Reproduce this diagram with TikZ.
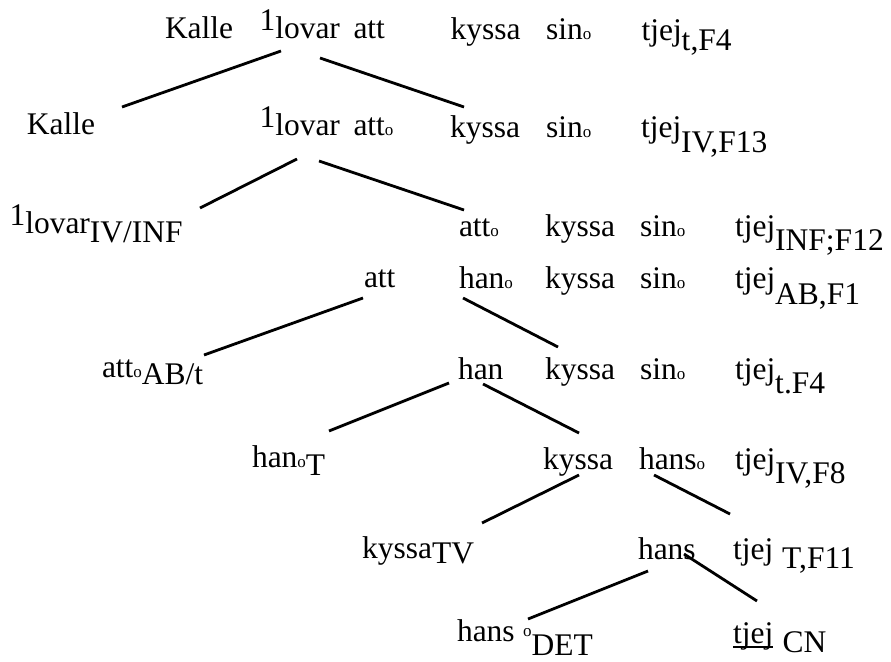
\documentclass[tikz,border=0pt]{standalone}
\usepackage{fontspec}
\setmainfont{Liberation Serif}
\newcommand\mainsz{\fontsize{31.5}{36}\selectfont}
\newcommand\lo[2]{\raisebox{-#1pt}{#2}}
\newcommand\hi[1]{\raisebox{8pt}{#1}}
\newcommand\oo{{\fontsize{17}{17}\selectfont o}}
\begin{document}
\begin{tikzpicture}[x=1pt,y=-1pt,
  w/.style={anchor=base west, inner sep=0pt, outer sep=0pt, font=\mainsz},
  br/.style={line width=2.8pt}]
\useasboundingbox (0,0) rectangle (891,661);
% row 1
\node[w] (r1a) at (165,38) {Kalle};
\node[w] (r1b) at (259.5,39) {\hi{1}lovar};
\node[w] (r1c) at (353.5,39) {att};
\node[w] (r1d) at (450.5,40) {kyssa};
\node[w] (r1e) at (546,40) {sin\oo};
\node[w] (r1f) at (641.5,41) {tjej\lo{10}{t,F4}};
% row 2
\node[w] (r2a) at (27,134) {Kalle};
\node[w] (r2b) at (259.5,135) {\hi{1}lovar};
\node[w] (r2c) at (353.5,135) {att\oo};
\node[w] (r2d) at (450,137) {kyssa};
\node[w] (r2e) at (546,137) {sin\oo};
\node[w] (r2f) at (641,137) {tjej\lo{15}{IV,F13}};
% row 3
\node[w] (r3a) at (9.5,233) {\hi{1}lovar\lo{9}{IV/INF}};
\node[w] (r3b) at (459,236) {att\oo};
\node[w] (r3c) at (545,236) {kyssa};
\node[w] (r3d) at (640,236) {sin\oo};
\node[w] (r3e) at (735,236) {tjej\lo{14}{INF;F12}};
% row 4
\node[w] (r4a) at (364,287) {att};
\node[w] (r4b) at (459,288) {han\oo};
\node[w] (r4c) at (545,288) {kyssa};
\node[w] (r4d) at (640,288) {sin\oo};
\node[w] (r4e) at (735,288) {tjej\lo{16}{AB,F1}};
% row 5
\node[w] (r5a) at (102,377) {att\oo\lo{7}{AB/t}};
\node[w] (r5b) at (458,379) {han};
\node[w] (r5c) at (545,379) {kyssa};
\node[w] (r5d) at (640,379) {sin\oo};
\node[w] (r5e) at (735,379) {tjej\lo{14}{t.F4}};
% row 6
\node[w] (r6a) at (252,467) {han\oo\lo{8}{T}};
\node[w] (r6b) at (543,469) {kyssa};
\node[w] (r6c) at (639,469) {hans\oo};
\node[w] (r6d) at (735,469) {tjej\lo{14}{IV,F8}};
% row 7
\node[w] (r7a) at (362,558) {kyssa\lo{5}{TV}};
\node[w] (r7b) at (638,559) {hans};
\node[w] (r7c) at (733,559) {tjej\hspace{9pt}\lo{9}{T,F11}};
% row 8
\node[w] (r8a) at (457,641) {hans\hspace{8.5pt}\lo{-5}{\oo}\lo{14.5}{DET}};
\node[w] (r8b) at (733,643) {tjej};
\node[w] (r8c) at (782.5,652) {CN};
\draw[line width=1.3pt] ([yshift=-4pt]r8b.base west) -- ([yshift=-4pt]r8b.base east);
% branch end points
\coordinate (p1a) at (281,51);  \coordinate (p1b) at (122,107);
\coordinate (p2a) at (320,58);  \coordinate (p2b) at (464,107);
\coordinate (p3a) at (297,159); \coordinate (p3b) at (200,208);
\coordinate (p4a) at (319,161); \coordinate (p4b) at (464,210);
\coordinate (p5a) at (363,298); \coordinate (p5b) at (204,355);
\coordinate (p6a) at (463,298); \coordinate (p6b) at (558,347);
\coordinate (p7a) at (449,383); \coordinate (p7b) at (329,431);
\coordinate (p8a) at (483,384); \coordinate (p8b) at (579,433);
\coordinate (p9a) at (579,475); \coordinate (p9b) at (482,523);
\coordinate (p10a) at (654,475); \coordinate (p10b) at (730,514);
\coordinate (p11a) at (648,571); \coordinate (p11b) at (528,619);
\coordinate (p12a) at (684,554); \coordinate (p12b) at (757,601);
\foreach \i in {1,...,12} \draw[br] (p\i a) -- (p\i b);
\end{tikzpicture}
\end{document}
